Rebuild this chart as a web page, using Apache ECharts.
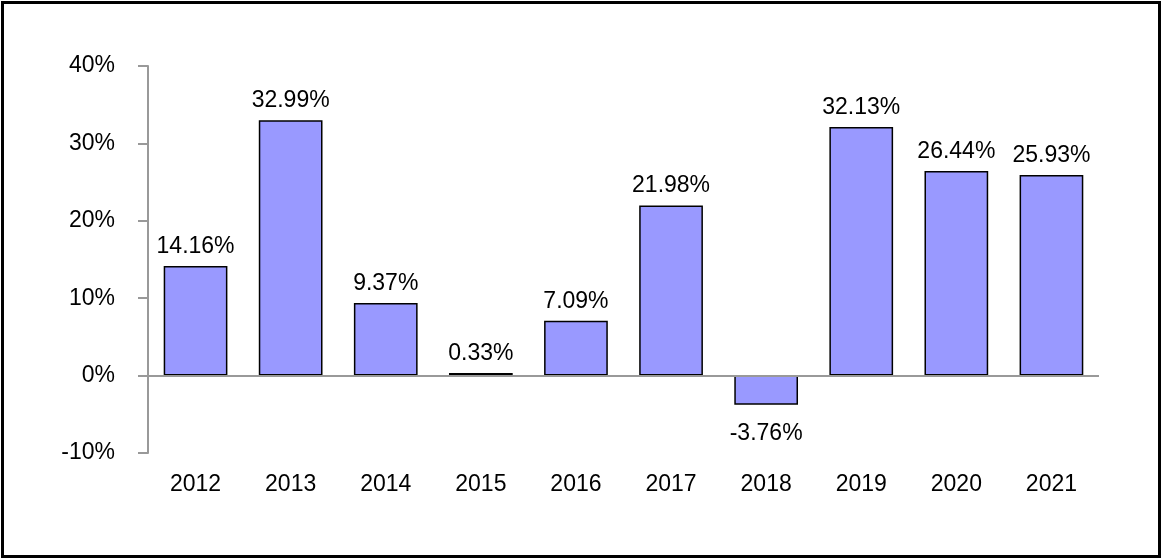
<!DOCTYPE html>
<html>
<head>
<meta charset="utf-8">
<script src="https://cdn.jsdelivr.net/npm/echarts@6/dist/echarts.min.js"></script>
<style>
html,body{margin:0;padding:0;background:#fff;}
#chart{position:absolute;left:0;top:0;width:1162px;height:560px;}
#frame{position:absolute;left:1px;top:1px;width:1154px;height:551px;border:3px solid #000;pointer-events:none;}
</style>
</head>
<body>
<div id="chart"></div>
<div id="frame"></div>
<script>
const categories = ['2012','2013','2014','2015','2016','2017','2018','2019','2020','2021'];
const returns = [14.16, 32.99, 9.37, 0.33, 7.09, 21.98, -3.76, 32.13, 26.44, 25.93];
const yTicks = { min: -10, max: 40, interval: 10 };

const chart = echarts.init(document.getElementById('chart'), null, {renderer: 'canvas'});
const font = 'Liberation Sans, Arial, sans-serif';
chart.setOption({
  animation: false,
  grid: { left: 148, right: 63, top: 66, bottom: 107 },
  xAxis: {
    type: 'category',
    data: categories,
    axisLine: { show: false, onZero: false },
    axisTick: { show: false },
    axisLabel: { color: '#000', fontFamily: font, fontSize: 23, margin: 20 }
  },
  yAxis: {
    type: 'value',
    min: yTicks.min, max: yTicks.max, interval: yTicks.interval,
    axisLine: { show: true, lineStyle: { color: '#999', width: 2 } },
    axisTick: { show: true, length: 10, lineStyle: { color: '#999', width: 2 } },
    splitLine: { show: false },
    axisLabel: { color: '#000', fontFamily: font, fontSize: 23, margin: 33, formatter: '{value}%' }
  },
  series: [{
    type: 'bar',
    barCategoryGap: '33%',
    data: returns.map(v => ({
      value: v,
      label: v < 0 ? { position: 'bottom', distance: 17 } : { position: 'top' }
    })),
    itemStyle: { color: '#9999ff', borderColor: '#000', borderWidth: 1.5 },
    label: {
      show: true, color: '#000', fontFamily: font, fontSize: 23, distance: 8,
      formatter: p => p.value.toFixed(2) + '%'
    },
    markLine: {
      silent: true, symbol: 'none', label: { show: false },
      lineStyle: { color: '#999', width: 2, type: 'solid' },
      data: [{ yAxis: 0 }]
    }
  }]
});
</script>
</body>
</html>
